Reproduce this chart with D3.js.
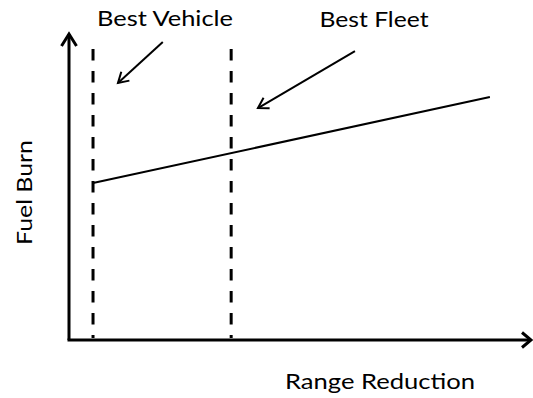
<!DOCTYPE html>
<html>
<head>
<meta charset="utf-8">
<script src="https://cdn.jsdelivr.net/npm/d3@7"></script>
<style>
  html, body { margin: 0; padding: 0; background: #fff; }
  svg { display: block; }
  text { font-family: Lato, "Open Sans", sans-serif; fill: #000; }
</style>
</head>
<body>
<svg id="chart" width="533" height="398"></svg>
<script>
// Conceptual trade-off: fuel burn rises with range reduction
const axisLabels = ["Range Reduction", "Fuel Burn"];

// Vertical reference markers (range reduction position)
const markerNames = ["Best Vehicle", "Best Fleet"];
const markerX = [5.2, 35.1];
const markerTop = 95.1;

// Fuel burn trend line
const trendX = [5.2, 91.1];
const trendY = [51.3, 79.4];

// Callout arrows: start point (near label) -> end point (near marker)
const calloutFromX = [20.3, 61.9];
const calloutFromY = [97.4, 94.4];
const calloutToX = [10.6, 40.9];
const calloutToY = [84.0, 75.8];

const W = 533, H = 398;
const svg = d3.select("#chart");

const x = d3.scaleLinear().domain([0, 100]).range([69, 531]);
const y = d3.scaleLinear().domain([0, 100]).range([340, 34]);

// open chevron arrowhead at tip, pointing away from (fx, fy)
function chevron(tx, ty, fx, fy, len, half) {
  const dx = tx - fx, dy = ty - fy;
  const d = Math.hypot(dx, dy);
  const ux = dx / d, uy = dy / d;
  const bx = tx - ux * len, by = ty - uy * len;
  const px = -uy, py = ux;
  return `M${bx + px * half},${by + py * half}L${tx},${ty}L${bx - px * half},${by - py * half}`;
}

const g = svg.append("g");

// Axes drawn as arrows
g.append("line")
  .attr("x1", x(0)).attr("y1", y(0))
  .attr("x2", x(0)).attr("y2", y(100))
  .attr("stroke", "#000").attr("stroke-width", 3);
g.append("path")
  .attr("d", chevron(x(0), y(100), x(0), y(0), 12, 7.5))
  .attr("fill", "none").attr("stroke", "#000").attr("stroke-width", 3);

g.append("line")
  .attr("x1", x(0) - 1.5).attr("y1", y(0))
  .attr("x2", x(100)).attr("y2", y(0))
  .attr("stroke", "#000").attr("stroke-width", 3);
g.append("path")
  .attr("d", chevron(x(100), y(0), x(0), y(0), 9, 7.5))
  .attr("fill", "none").attr("stroke", "#000").attr("stroke-width", 3);

// Dashed marker lines
g.selectAll("line.marker")
  .data(markerX)
  .join("line")
  .attr("class", "marker")
  .attr("x1", d => x(d)).attr("x2", d => x(d))
  .attr("y1", y(markerTop)).attr("y2", y(0) - 2)
  .attr("stroke", "#000").attr("stroke-width", 3)
  .attr("stroke-dasharray", "11.5,10.5");

// Trend line
const line = d3.line().x(d => x(d[0])).y(d => y(d[1]));
g.append("path")
  .attr("d", line(d3.zip(trendX, trendY)))
  .attr("fill", "none").attr("stroke", "#000").attr("stroke-width", 2);

// Callout arrows
markerNames.forEach((name, i) => {
  const fx = x(calloutFromX[i]), fy = y(calloutFromY[i]);
  const tx = x(calloutToX[i]), ty = y(calloutToY[i]);
  g.append("line")
    .attr("x1", fx).attr("y1", fy).attr("x2", tx).attr("y2", ty)
    .attr("stroke", "#000").attr("stroke-width", 2);
  g.append("path")
    .attr("d", chevron(tx, ty, fx, fy, 10, 6))
    .attr("fill", "none").attr("stroke", "#000").attr("stroke-width", 2);
});

// Marker labels
const labelPos = [{cx: 165, by: 26, len: 136}, {cx: 374, by: 26.5, len: 109}];
markerNames.forEach((name, i) => {
  svg.append("text")
    .attr("x", labelPos[i].cx).attr("y", labelPos[i].by)
    .attr("text-anchor", "middle")
    .attr("font-size", 22)
    .attr("textLength", labelPos[i].len)
    .attr("lengthAdjust", "spacingAndGlyphs")
    .text(name);
});

// Axis titles
svg.append("text")
  .attr("x", 380).attr("y", 388.5)
  .attr("text-anchor", "middle")
  .attr("font-size", 22)
  .attr("textLength", 190)
  .attr("lengthAdjust", "spacingAndGlyphs")
  .text(axisLabels[0]);

svg.append("text")
  .attr("transform", "translate(31.5,192.5) rotate(-90)")
  .attr("text-anchor", "middle")
  .attr("font-size", 22)
  .attr("textLength", 105)
  .attr("lengthAdjust", "spacingAndGlyphs")
  .text(axisLabels[1]);
</script>
</body>
</html>
